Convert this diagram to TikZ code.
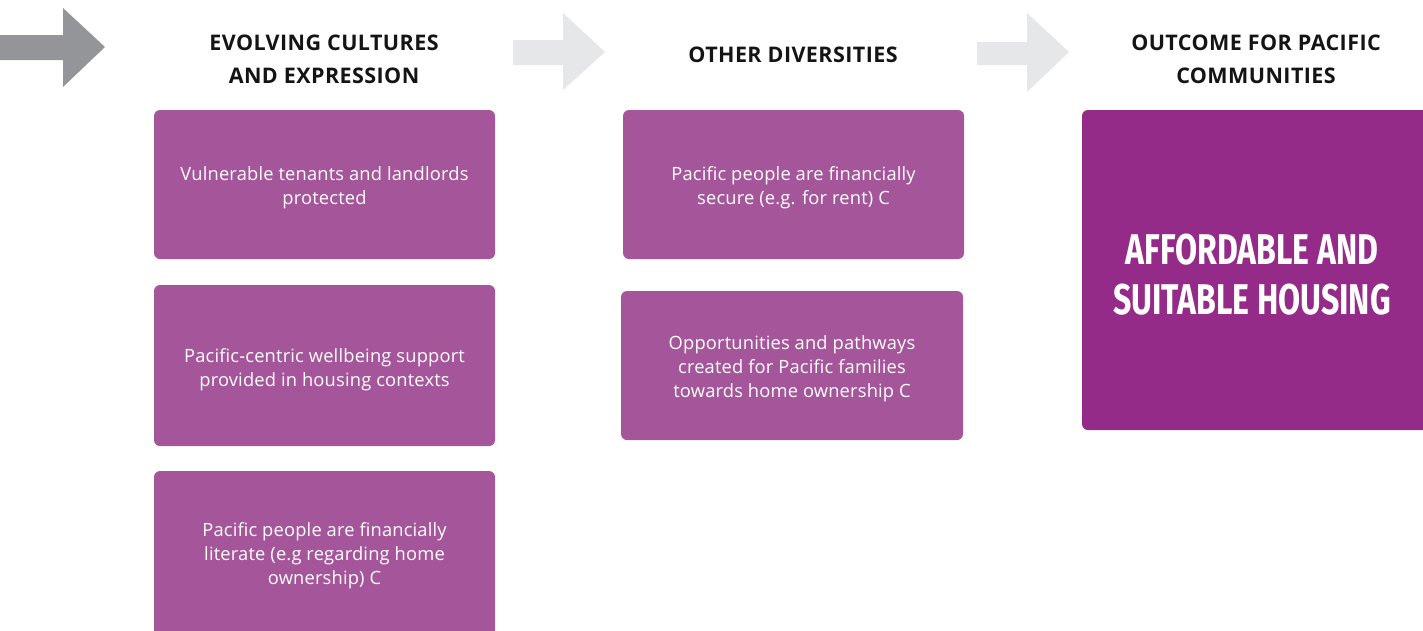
\documentclass[tikz,border=0pt]{standalone}
\usepackage{fontspec}
\setmainfont{Open Sans}
\newfontfamily\titlefont[FakeStretch=0.745]{Fira Sans}
\definecolor{boxpurple}{RGB}{165,86,155}
\definecolor{bigpurple}{RGB}{149,43,136}
\definecolor{darkarrow}{RGB}{147,149,152}
\definecolor{lightarrow}{RGB}{230,231,232}
\definecolor{headtext}{RGB}{20,20,20}
\tikzset{
  smallbox/.style={fill=boxpurple, rounded corners=6pt, inner sep=0pt},
  boxtext/.style={text=white, align=center, font=\fontsize{18.3}{24}\selectfont\addfontfeature{LetterSpace=1}, inner sep=0pt},
  headtextstyle/.style={text=headtext, align=center, font=\fontsize{21.5}{33}\selectfont\bfseries\addfontfeature{LetterSpace=2}, inner sep=0pt},
  titletext/.style={text=white, align=center, font=\fontsize{43}{50}\selectfont\titlefont\bfseries, inner sep=0pt},
}
\begin{document}
\begin{tikzpicture}[x=1pt,y=-1pt]
\useasboundingbox (0,0) rectangle (1423,630);
% arrows
\fill[darkarrow] (0,35) -- (63,35) -- (63,8) -- (105,47) -- (63,87) -- (63,60) -- (0,60) -- cycle;
\fill[lightarrow] (513,40) -- (563,40) -- (563,13) -- (605,52) -- (563,90) -- (563,65) -- (513,65) -- cycle;
\fill[lightarrow] (977,42) -- (1027,42) -- (1027,13) -- (1069,52) -- (1027,92) -- (1027,65) -- (977,65) -- cycle;
% headings
\node[headtextstyle] (h1) at (324,59) {EVOLVING CULTURES\\AND EXPRESSION};
\node[headtextstyle] (h2) at (793,55) {OTHER DIVERSITIES};
\node[headtextstyle] (h3) at (1256,59) {OUTCOME FOR PACIFIC\\COMMUNITIES};
% column 1
\fill[smallbox] (154,110) rectangle (495,259);
\node[boxtext] (a1) at (324.5,187.5) {Vulnerable tenants and landlords\\protected};
\fill[smallbox] (154,285) rectangle (495,446);
\node[boxtext] (a2) at (324.5,369.5) {Pacific-centric wellbeing support\\provided in housing contexts};
\fill[smallbox] (154,471) rectangle (495,640);
\node[boxtext] (a3) at (324.5,555.5) {Pacific people are financially\\literate (e.g regarding home\\ownership) C};
% column 2
\fill[smallbox] (623,110) rectangle (964,259);
\node[boxtext] (b1) at (793.5,187.5) {Pacific people are financially\\secure (e.g. for rent) C};
\fill[smallbox] (621,291) rectangle (963,440);
\node[boxtext] (b2) at (792,368.5) {Opportunities and pathways\\created for Pacific families\\towards home ownership C};
% outcome
\fill[bigpurple, rounded corners=6pt] (1082,110) rectangle (1430,430);
\node[titletext] (c1) at (1252,275) {AFFORDABLE AND\\SUITABLE HOUSING};
\end{tikzpicture}
\end{document}
